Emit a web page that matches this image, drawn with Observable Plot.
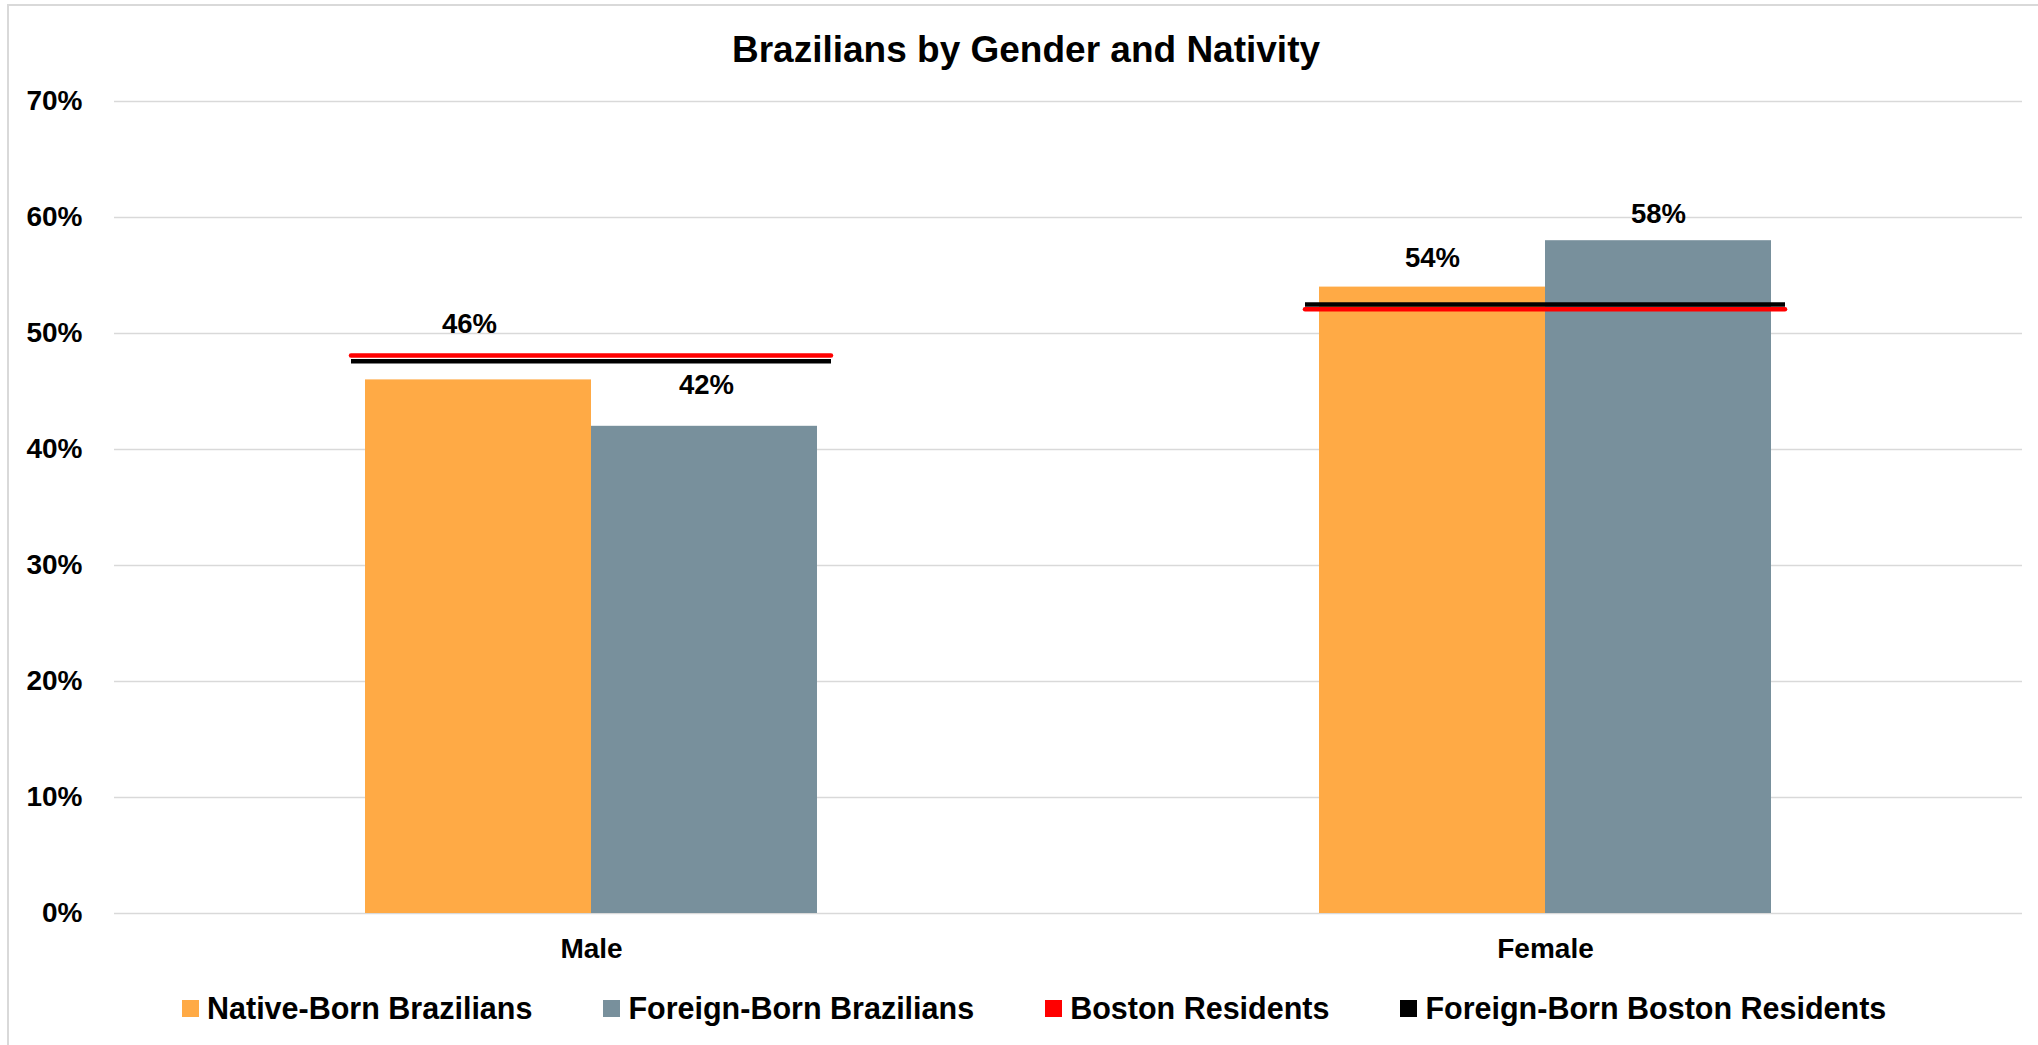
<!DOCTYPE html>
<html>
<head>
<meta charset="utf-8">
<script src="https://cdn.jsdelivr.net/npm/d3@7"></script>
<script src="https://cdn.jsdelivr.net/npm/@observablehq/plot@0.6"></script>
<style>
  html, body { margin: 0; padding: 0; background: #fff; overflow: hidden; }
  body { width: 2038px; height: 1045px; position: relative; font-family: "Liberation Sans", Arial, sans-serif; }
  #frame { position: absolute; left: 7px; top: 4px; width: 2100px; height: 1100px; border: 2px solid #d9d9d9; box-sizing: border-box; }
  #title { position: absolute; left: 14px; top: 31px; width: 2024px; text-align: center; font-size: 37px; font-weight: bold; line-height: 1; color: #000; }
  #chart { position: absolute; left: 0; top: 60px; }
  #legend { position: absolute; left: 182px; top: 993px; display: flex; align-items: center; gap: 71px; font-size: 30.5px; font-weight: bold; line-height: 1; color: #000; }
  .item { display: flex; align-items: center; gap: 8px; white-space: nowrap; }
  .sw { width: 17px; height: 17px; display: inline-block; }
</style>
</head>
<body>
<div id="frame"></div>
<div id="title">Brazilians by Gender and Nativity</div>
<div id="chart"></div>
<div id="legend"></div>
<script>
// ---- data ----
const genders = ["Male", "Female"];
const series = ["Native-Born Brazilians", "Foreign-Born Brazilians"];
const nativeBorn = [0.46, 0.54];
const foreignBorn = [0.42, 0.58];
const bostonResidents = [0.481, 0.521];
const foreignBornBoston = [0.476, 0.525];
const yTicks = [0, 0.1, 0.2, 0.3, 0.4, 0.5, 0.6, 0.7];
const legendLabels = ["Native-Born Brazilians", "Foreign-Born Brazilians", "Boston Residents", "Foreign-Born Boston Residents"];

// ---- styles ----
const colors = { "Native-Born Brazilians": "#FFAA45", "Foreign-Born Brazilians": "#78909C" };
const legendColors = ["#FFAA45", "#78909C", "#FF0000", "#000000"];
const labelOffset = { "Male|Native-Born Brazilians": [-9, -56], "Male|Foreign-Born Brazilians": [2, -41],
                      "Female|Native-Born Brazilians": [0, -29], "Female|Foreign-Born Brazilians": [0, -27] };

const bars = [];
genders.forEach((g, i) => {
  bars.push({ gender: g, series: series[0], value: nativeBorn[i] });
  bars.push({ gender: g, series: series[1], value: foreignBorn[i] });
});
const boston = genders.map((g, i) => ({ gender: g, value: bostonResidents[i] }));
const fbBoston = genders.map((g, i) => ({ gender: g, value: foreignBornBoston[i] }));

const fmt = d3.format(".0%");

const labelMarks = bars.map(d => {
  const off = labelOffset[d.gender + "|" + d.series];
  return Plot.text([d], {
    fx: "gender", x: "series", y: "value", text: v => fmt(v.value),
    dx: off[0], dy: off[1], fill: "#000", fontSize: 27.5, fontWeight: "bold"
  });
});

const chart = Plot.plot({
  width: 2038,
  height: 920,
  marginLeft: 113,
  marginRight: 16,
  marginTop: 41,
  marginBottom: 67,
  style: { fontSize: "28px", fontFamily: "'Liberation Sans', Arial, sans-serif", fontWeight: "bold", color: "#000", background: "transparent" },
  fx: { domain: genders, padding: 0, axis: "bottom", tickSize: 0, tickPadding: 25, label: null },
  x: { domain: series, paddingInner: 0, paddingOuter: 1.104, axis: null },
  y: { domain: [0, 0.7], ticks: yTicks, tickFormat: d3.format(".0%"), tickSize: 0, tickPadding: 32, label: null },
  marks: [
    Plot.ruleY(yTicks, { stroke: "#d9d9d9", strokeWidth: 1.5 }),
    Plot.barY(bars, { fx: "gender", x: "series", y: "value", fill: d => colors[d.series] }),
    Plot.ruleY(boston, { fx: "gender", y: "value", stroke: "#FF0000", strokeWidth: 4.5, strokeLinecap: "round", insetLeft: 237, insetRight: 237 }),
    Plot.ruleY(fbBoston, { fx: "gender", y: "value", stroke: "#000000", strokeWidth: 4.5, insetLeft: 237, insetRight: 237 }),
    ...labelMarks
  ]
});
document.getElementById("chart").appendChild(chart);

const legend = document.getElementById("legend");
legendLabels.forEach((name, i) => {
  const item = document.createElement("div");
  item.className = "item";
  const sw = document.createElement("span");
  sw.className = "sw";
  sw.style.background = legendColors[i];
  const t = document.createElement("span");
  t.textContent = name;
  item.appendChild(sw);
  item.appendChild(t);
  legend.appendChild(item);
});
</script>
</body>
</html>
